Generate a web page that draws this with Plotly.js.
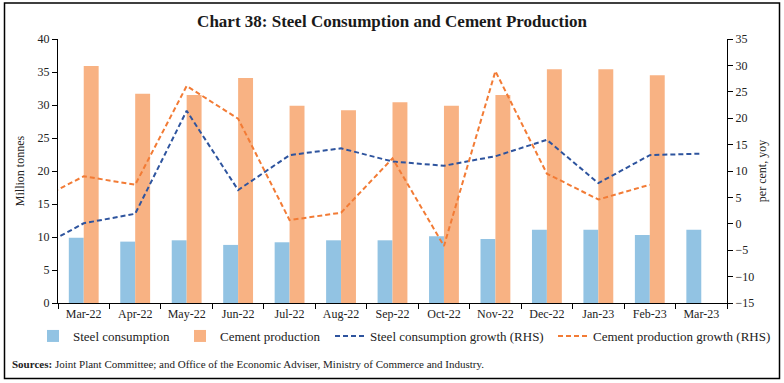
<!DOCTYPE html>
<html>
<head>
<meta charset="utf-8">
<script src="https://cdn.plot.ly/plotly-3.0.1.min.js"></script>
<style>
html,body{margin:0;padding:0;background:#fff;}
#chart{width:784px;height:383px;}
</style>
</head>
<body>
<div id="chart"></div>
<script>
// Categories (Feb-22 is only used for the line segments entering from the left edge)
const months = ["Feb-22","Mar-22","Apr-22","May-22","Jun-22","Jul-22","Aug-22","Sep-22","Oct-22","Nov-22","Dec-22","Jan-23","Feb-23","Mar-23"];
const barMonths = ["Mar-22","Apr-22","May-22","Jun-22","Jul-22","Aug-22","Sep-22","Oct-22","Nov-22","Dec-22","Jan-23","Feb-23","Mar-23"];

// Million tonnes (LHS)
const steelConsumption = [9.9, 9.3, 9.5, 8.8, 9.2, 9.5, 9.5, 10.1, 9.7, 11.1, 11.1, 10.3, 11.1];
const cementProduction = [35.9, 31.7, 31.5, 34.1, 29.9, 29.2, 30.4, 29.9, 31.5, 35.4, 35.4, 34.5, null];

// per cent, yoy (RHS)
const steelGrowth  = [-5.2, 0.1, 1.9, 21.4, 6.4, 13.0, 14.3, 11.8, 11.0, 12.8, 15.9, 7.7, 13.0, 13.3];
const cementGrowth = [4.0, 9.0, 7.4, 26.1, 19.9, 0.7, 2.1, 12.4, -4.2, 28.9, 9.5, 4.6, 7.4, null];

const FONT = "Liberation Serif, DejaVu Serif, serif";
const ML = 58, MR = 57, MT = 39, MB = 80, W = 784, H = 383;
const PW = W - ML - MR, PH = H - MT - MB;
const px = x => (x - ML) / PW;
const py = y => (H - MB - y) / PH;

const traces = [
  {type:"bar", name:"Steel consumption", x:barMonths, y:steelConsumption,
   marker:{color:"#92c3e3"}, yaxis:"y", legend:"legend"},
  {type:"bar", name:"Cement production", x:barMonths, y:cementProduction,
   marker:{color:"#f8b283"}, yaxis:"y", legend:"legend2"},
  {type:"scatter", mode:"lines", name:"Steel consumption growth (RHS)", x:months, y:steelGrowth,
   line:{color:"#2e549e", width:2, dash:"5px,3px"}, yaxis:"y2", legend:"legend3"},
  {type:"scatter", mode:"lines", name:"Cement production growth (RHS)", x:months, y:cementGrowth,
   line:{color:"#f27b35", width:2, dash:"5px,3px"}, yaxis:"y2", connectgaps:false, legend:"legend4"}
];

function leg(textStart){
  return {orientation:"h", xref:"container", yref:"container", x:(textStart - 42)/W, xanchor:"left",
          y:1 - 336/H, yanchor:"middle", bgcolor:"rgba(0,0,0,0)", borderwidth:0,
          font:{family:FONT, size:13, color:"#222"}, itemwidth:30};
}

const layout = {
  width: W, height: H,
  margin:{l:ML, r:MR, t:MT, b:MB},
  paper_bgcolor:"#fff", plot_bgcolor:"#fff",
  font:{family:FONT, size:12, color:"#222"},
  title:{text:"<b>Chart 38: Steel Consumption and Cement Production</b>",
         font:{family:FONT, size:17, color:"#1a1a1a"}, x:0.5, xanchor:"center",
         y:1 - 21/H, yanchor:"middle", yref:"container"},
  barmode:"group", bargap:0.42, bargroupgap:0,
  showlegend:true,
  legend:leg(75), legend2:leg(222), legend3:leg(372), legend4:leg(595),
  xaxis:{type:"category", categoryorder:"array", categoryarray:months, range:[0.5, 13.5],
         tickson:"boundaries", ticks:"outside", ticklen:5, tickcolor:"#000",
         showline:true, linecolor:"#000", linewidth:1, showgrid:false, zeroline:false,
         tickfont:{family:FONT, size:12, color:"#222"}},
  yaxis:{range:[0,40], dtick:5, ticks:"outside", ticklen:5, tickcolor:"#000",
         showline:true, linecolor:"#000", linewidth:1, showgrid:false, zeroline:false,
         title:{text:"Million tonnes", font:{family:FONT, size:12, color:"#222"}, standoff:10},
         tickfont:{family:FONT, size:12, color:"#222"}},
  yaxis2:{range:[-15,35], dtick:5, overlaying:"y", side:"right", ticks:"outside", ticklen:5, tickcolor:"#000",
         showline:true, linecolor:"#000", linewidth:1, showgrid:false, zeroline:false,
         title:{text:"per cent, yoy", font:{family:FONT, size:12, color:"#222"}, standoff:4},
         tickfont:{family:FONT, size:12, color:"#222"}},
  annotations:[
    {xref:"paper", yref:"paper", x:px(10), y:py(364), xanchor:"left", yanchor:"middle",
     showarrow:false, align:"left",
     text:"<b>Sources:</b> Joint Plant Committee; and Office of the Economic Adviser, Ministry of Commerce and Industry.",
     font:{family:FONT, size:11, color:"#222"}}
  ],
  shapes:[
    {type:"rect", xref:"paper", yref:"paper", x0:px(4.5), x1:px(779.5), y0:py(378.5), y1:py(3),
     line:{color:"#000", width:1.5}, fillcolor:"rgba(0,0,0,0)", layer:"above"}
  ]
};

Plotly.newPlot("chart", traces, layout, {displayModeBar:false, staticPlot:true});
</script>
</body>
</html>
